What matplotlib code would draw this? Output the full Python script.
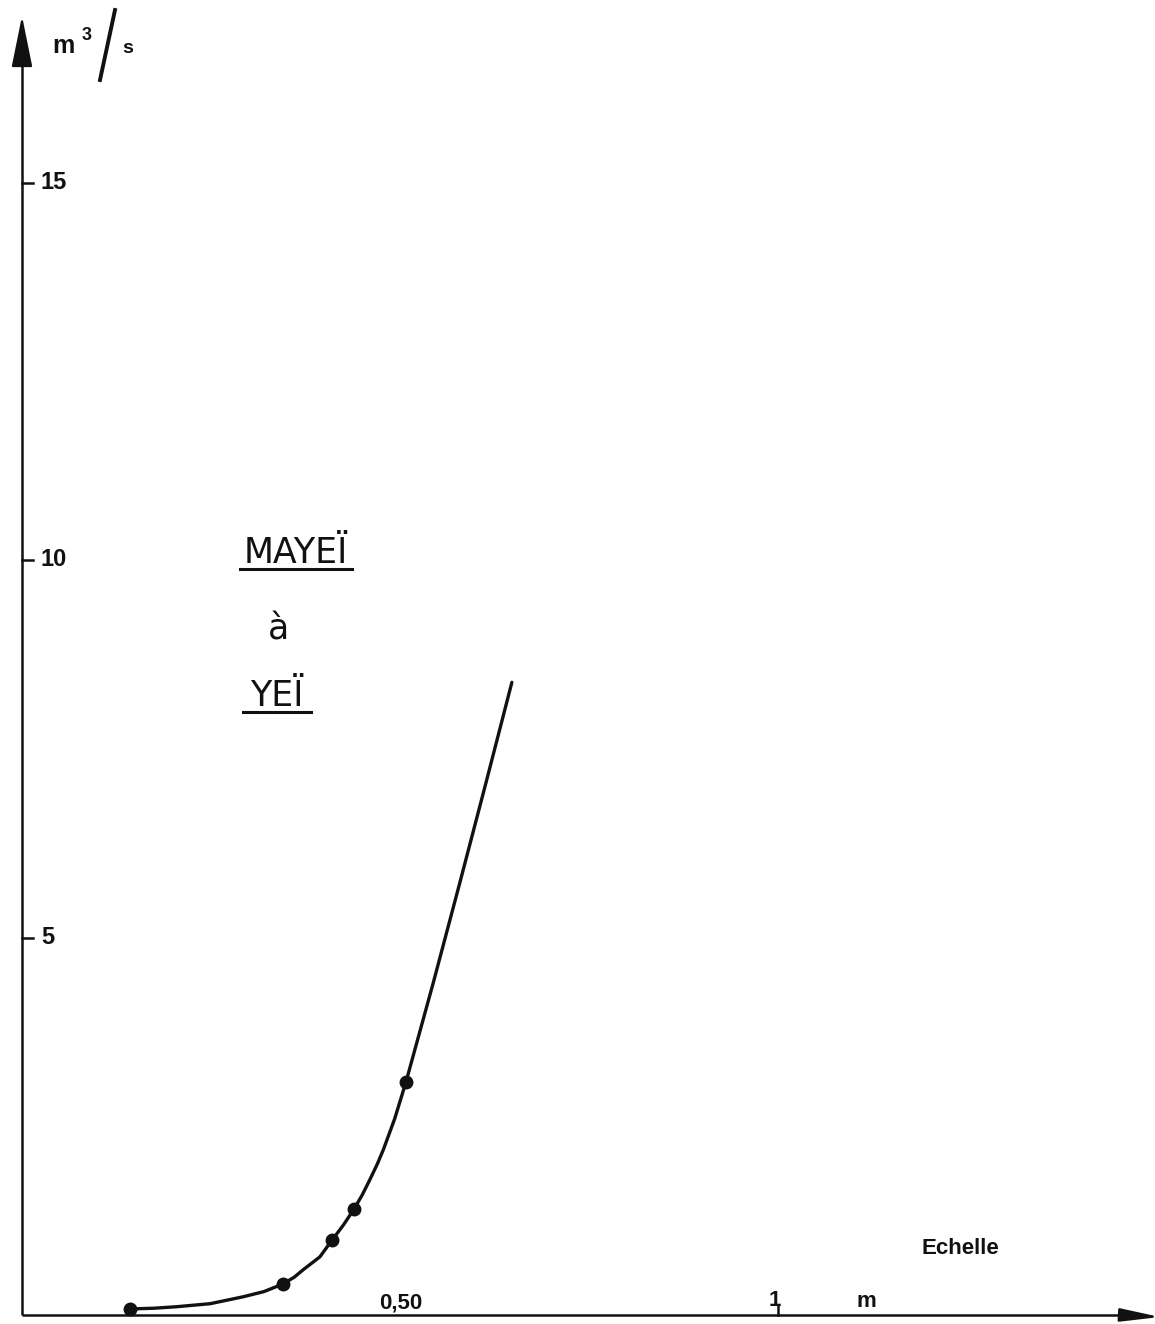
import matplotlib
matplotlib.use("Agg")
import matplotlib.pyplot as plt

# Gauge height (m) and discharge (m3/s) of the measured points
stage_m = [0.143, 0.345, 0.410, 0.439, 0.508]
discharge = [0.08, 0.41, 0.99, 1.40, 3.09]

# Traced rating curve (stage, discharge) along the drawn line
curve_stage = [0.143, 0.175, 0.205, 0.249, 0.292, 0.320, 0.345, 0.360, 0.372,
               0.394, 0.410, 0.425, 0.439, 0.450, 0.460, 0.470, 0.478, 0.493,
               0.508, 0.544, 0.579, 0.614, 0.648]
curve_q = [0.08, 0.09, 0.11, 0.15, 0.24, 0.31, 0.41, 0.50, 0.60,
           0.77, 0.99, 1.19, 1.40, 1.59, 1.79, 2.00, 2.19, 2.60,
           3.09, 4.40, 5.72, 7.06, 8.38]

y_ticks = [5, 10, 15]
y_tick_labels = ["5", "10", "15"]

W, H = 1155, 1324
fig = plt.figure(figsize=(W / 100, H / 100), dpi=100)
ax = fig.add_axes([0, 0, 1, 1])

# data <-> pixel scale: x origin at px 22, 756 px per metre;
# y origin at px 1315 from top, 75.5 px per m3/s
X0, SX = 22.0, 756.0
Y0, SY = 1315.0, 75.5
ax.set_xlim(-X0 / SX, (W - X0) / SX)
ax.set_ylim((Y0 - H) / SY, Y0 / SY)
ax.axis("off")

def px(x):
    return (x - X0) / SX

def py(y):
    return (Y0 - y) / SY

ink = "#111111"
bold = dict(family=["Liberation Sans", "DejaVu Sans"], weight="bold", color=ink)

# axes with arrows
ax.plot([0, 0], [0, py(60)], color=ink, lw=1.8, solid_capstyle="butt")
ax.annotate("", xy=(0, py(16)), xytext=(0, py(64)), annotation_clip=False,
            arrowprops=dict(arrowstyle="-|>,head_length=3.2,head_width=0.65",
                            color=ink, lw=1.6, shrinkA=0, shrinkB=0))
ax.plot([0, px(1125)], [0, 0], color=ink, lw=1.8, solid_capstyle="butt")
ax.annotate("", xy=(px(1160), py(1317)), xytext=(px(1120), 0),
            annotation_clip=False,
            arrowprops=dict(arrowstyle="-|>,head_length=2.4,head_width=0.4",
                            color=ink, lw=1.8, shrinkA=0, shrinkB=0))

# y ticks and labels
for v, lab in zip(y_ticks, y_tick_labels):
    ax.plot([0, px(33)], [v, v], color=ink, lw=1.8)
    ax.text(px(41), v, lab, ha="left", va="center", fontsize=17, **bold)

# x tick marks and labels
ax.plot([1.0, 1.0], [0, py(1306)], color=ink, lw=1.8)
ax.text(px(401), py(1313), "0,50", ha="center", va="bottom", fontsize=16, **bold)
ax.text(px(775), py(1311), "1", ha="center", va="bottom", fontsize=16, **bold)
ax.text(px(866), py(1312), "m", ha="center", va="bottom", fontsize=16, **bold)
ax.text(px(960), py(1249), "Echelle", ha="center", va="center", fontsize=16,
        family=["Liberation Sans Narrow", "Liberation Sans", "DejaVu Sans"],
        weight="bold", color=ink)

# unit label m3/s with a hand-drawn slash
ax.text(px(52), py(53), "m", ha="left", va="baseline", fontsize=18, **bold)
ax.text(px(82), py(40), "3", ha="left", va="baseline", fontsize=13, **bold)
ax.plot([px(115), px(100)], [py(10), py(80)], color=ink, lw=2.8)
ax.text(px(122), py(53), "s", ha="left", va="baseline", fontsize=14, **bold)

# station title
title = dict(family=["DejaVu Sans"], color=ink, fontsize=25)
ax.text(px(296), py(563), "MAYEÏ", ha="center", va="baseline", **title)
ax.plot([px(240), px(352)], [py(569), py(569)], color=ink, lw=2.2)
ax.text(px(278), py(640), "à", ha="center", va="baseline", **title)
ax.text(px(277), py(706), "YEÏ", ha="center", va="baseline", **title)
ax.plot([px(243), px(311)], [py(712), py(712)], color=ink, lw=2.2)

# rating curve and measurements
ax.plot(curve_stage, curve_q, color=ink, lw=2.4, solid_capstyle="round",
        solid_joinstyle="round")
ax.plot(stage_m, discharge, "o", color=ink, markersize=9)

fig.savefig("out.png", dpi=100, facecolor="white")
